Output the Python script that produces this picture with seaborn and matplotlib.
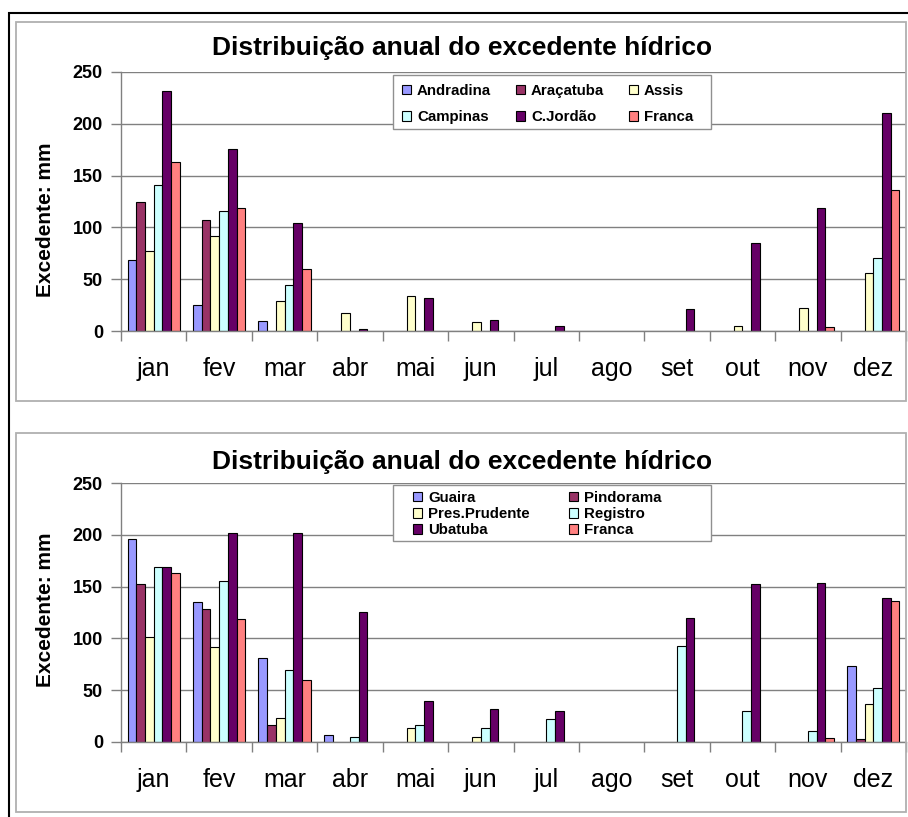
import pandas as pd
import numpy as np
import matplotlib
matplotlib.use('Agg')
import matplotlib.pyplot as plt
import matplotlib.patches as mpatches
import seaborn as sns

# --- Dados ---
meses = ['jan', 'fev', 'mar', 'abr', 'mai', 'jun', 'jul', 'ago', 'set', 'out', 'nov', 'dez']

# gráfico de cima
andradina = [69, 25, 10, 0, 0, 0, 0, 0, 0, 0, 0, 0]
aracatuba = [125, 107, 0, 0, 0, 0, 0, 0, 0, 0, 0, 0]
assis = [77, 92, 29, 17, 34, 9, 0, 0, 0, 5, 22, 56]
campinas = [141, 116, 44, 0, 0, 0, 0, 0, 0, 0, 0, 70]
cjordao = [232, 176, 104, 1.5, 32, 11, 4.5, 0, 21, 85, 119, 210]
franca = [163, 119, 60, 0, 0, 0, 0, 0, 0, 0, 3.5, 136]
nomes_cima = ['Andradina', 'Araçatuba', 'Assis', 'Campinas', 'C.Jordão', 'Franca']

# gráfico de baixo
guaira = [196, 135, 81, 6.5, 0, 0, 0, 0, 0, 0, 0, 73]
pindorama = [153, 128, 16, 0, 0, 0, 0, 0, 0, 0, 0, 2.5]
pres_prudente = [101, 92, 23, 0, 13, 4.5, 0, 0, 0, 0, 0, 36]
registro = [169, 155, 69, 5, 16.5, 13, 21.5, 0, 92.5, 30, 10, 52]
ubatuba = [169, 202, 202, 125.5, 39, 31.5, 29.5, 0, 120, 153, 153.5, 139]
franca2 = [163, 119, 60, 0, 0, 0, 0, 0, 0, 0, 3.5, 136]
nomes_baixo = ['Guaira', 'Pindorama', 'Pres.Prudente', 'Registro', 'Ubatuba', 'Franca']

cores = ['#9999FF', '#993366', '#FFFFCC', '#CCFFFF', '#660066', '#FF8080']


def monta_df(series, nomes):
    linhas = []
    for nome, vals in zip(nomes, series):
        for m, v in zip(meses, vals):
            linhas.append({'mes': m, 'valor': v, 'estacao': nome})
    return pd.DataFrame(linhas)


df_cima = monta_df([andradina, aracatuba, assis, campinas, cjordao, franca], nomes_cima)
df_baixo = monta_df([guaira, pindorama, pres_prudente, registro, ubatuba, franca2], nomes_baixo)

sns.set_theme(style="white")
plt.rcParams['font.family'] = ['Liberation Sans', 'DejaVu Sans']
plt.rcParams['text.color'] = 'black'
plt.rcParams['axes.labelcolor'] = 'black'
plt.rcParams['xtick.color'] = 'black'
plt.rcParams['ytick.color'] = 'black'

W, H = 908, 817
fig = plt.figure(figsize=(W / 100, H / 100), dpi=100)


def fx(px):
    return px / W


def fy(py):
    return 1 - py / H


def caixa(x0, y0, x1, y1, cor, lw, fill=False, z=1):
    fig.add_artist(mpatches.Rectangle((fx(x0), fy(y1)), fx(x1) - fx(x0), fy(y0) - fy(y1),
                                      transform=fig.transFigure, fill=fill, facecolor='white',
                                      edgecolor=cor, lw=lw, zorder=z))


# moldura externa preta e caixas cinzas dos gráficos
caixa(8.7, 13, 920, 830, 'black', 1.5)
caixa(15.7, 22.3, 906, 400.7, '#b0b0b0', 1.3)
caixa(15.7, 432.7, 906, 811.7, '#b0b0b0', 1.3)


def desenha(df, nomes, topo, base, titulo_y, label_y, leg):
    ax = fig.add_axes([fx(121), fy(base), fx(906) - fx(121), fy(topo) - fy(base)])
    sns.barplot(data=df, x='mes', y='valor', hue='estacao', hue_order=nomes, order=meses,
                palette=cores, saturation=1, edgecolor='black', linewidth=0.8,
                legend=False, ax=ax, width=0.8)
    for p in ax.patches:
        if p.get_height() == 0:
            p.set_visible(False)
    ax.set_xlim(-0.5, 11.5)
    ax.set_ylim(0, 250)
    ax.set_yticks(range(0, 251, 50))
    ax.yaxis.grid(True, color='#808080', lw=1)
    ax.set_axisbelow(True)
    for s in ['top', 'right']:
        ax.spines[s].set_visible(False)
    for s in ['left', 'bottom']:
        ax.spines[s].set_color('#808080')
        ax.spines[s].set_linewidth(1)
    ax.tick_params(axis='y', which='major', left=True, length=7, width=1, color='#808080',
                   pad=6, labelsize=13, labelcolor='black')
    for t in ax.get_yticklabels():
        t.set_fontweight('bold')
    ax.set_xticks(np.arange(-0.5, 12, 1), minor=True)
    ax.tick_params(axis='x', which='minor', bottom=True, length=7, width=1, color='#808080')
    ax.tick_params(axis='x', which='major', bottom=False, length=0, pad=19, labelsize=18,
                   labelcolor='black')
    ax.set_xlabel('')
    ax.set_ylabel('Excedente: mm', fontsize=15, fontweight='bold')
    ax.yaxis.set_label_coords(-0.084, label_y)
    fig.text(fx(462), fy(titulo_y), 'Distribuição anual do excedente hídrico',
             ha='center', va='center', fontsize=19, fontweight='bold')

    # legenda: caixa branca por cima da grade, depois os itens
    ordem, ncol, caixa_leg, ancora, colsp, rowsp = leg
    caixa(*caixa_leg, '#909090', 1, fill=True, z=3)
    handles = [mpatches.Patch(facecolor=cores[i], edgecolor='black', lw=0.8) for i in ordem]
    labels = [nomes[i] for i in ordem]
    fig.legend(handles, labels, ncol=ncol, loc='upper left',
               bbox_to_anchor=(fx(ancora[0]), fy(ancora[1])), bbox_transform=fig.transFigure,
               prop={'weight': 'bold', 'size': 10.8}, frameon=False,
               handlelength=0.6, handleheight=0.6, handletextpad=0.4,
               columnspacing=colsp, labelspacing=rowsp, borderpad=0, borderaxespad=0)
    return ax


desenha(df_cima, nomes_cima, 72, 331, 48, 0.43,
        ([0, 3, 1, 4, 2, 5], 3, (393, 75, 711, 129), (402, 84), 1.65, 0.82))
desenha(df_baixo, nomes_baixo, 483.3, 741.7, 462, 0.51,
        ([0, 2, 4, 1, 3, 5], 2, (393, 485, 711, 541), (413, 491), 2.65, 0.15))

fig.savefig('out.png', dpi=100)
